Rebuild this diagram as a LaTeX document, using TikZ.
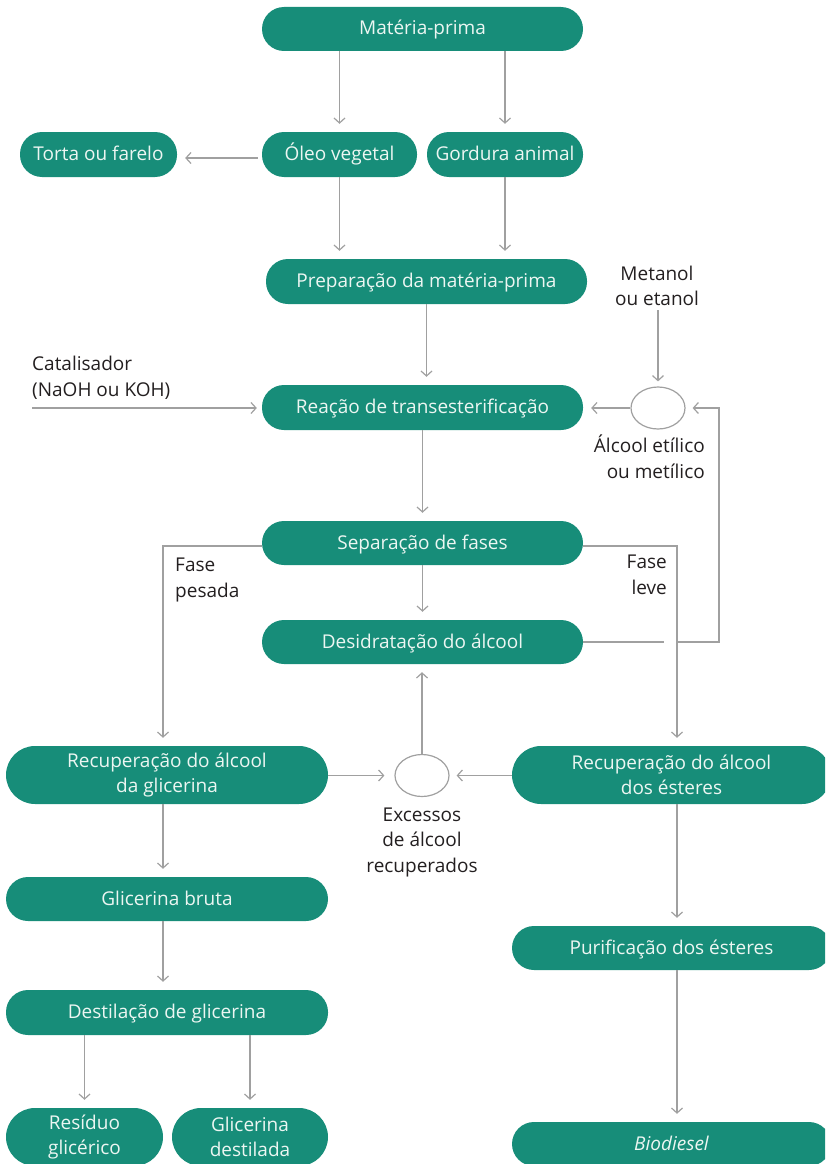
\documentclass[tikz,border=0pt]{standalone}
\usepackage{fontspec}
\setmainfont{Open Sans}
\usetikzlibrary{arrows.meta,calc,shapes.geometric}
\definecolor{teal1}{RGB}{23,141,121}
\definecolor{arrg}{RGB}{160,160,160}
\definecolor{boxtxt}{RGB}{236,246,242}
\definecolor{lblc}{RGB}{35,31,32}
\begin{document}
\begin{tikzpicture}[x=1pt,y=-1pt,
  box/.style={fill=teal1, text=boxtxt, rounded corners=22pt, minimum height=44pt,
    inner sep=0pt, align=center, font=\fontsize{19}{25}\selectfont, text height=16pt, text depth=4pt},
  tall/.style={box, rounded corners=29pt, minimum height=58pt, text height=, text depth=},
  ell/.style={ellipse, draw=arrg, line width=1.2pt, fill=white, minimum width=54pt, minimum height=42pt, inner sep=0pt},
  arr/.style={draw=arrg, line width=1.2pt, -{Straight Barb[length=5pt,width=11pt]}, shorten >=8pt},
  ln/.style={draw=arrg, line width=1.2pt},
  lbl/.style={text=lblc, inner sep=0pt, font=\fontsize{19}{25.5}\selectfont}
]
\useasboundingbox (0,0) rectangle (825,1164);
\clip (0,0) rectangle (825,1164);

% boxes
\node[box, minimum width=321pt] (mp) at (422.5,29) {Matéria-prima};
\node[box, minimum width=155pt, minimum height=45pt] (oleo) at (339.5,154.5) {Óleo vegetal};
\node[box, minimum width=156pt, minimum height=45pt] (gord) at (505,154.5) {Gordura animal};
\node[box, minimum width=157pt, minimum height=45pt] (torta) at (98.5,154.5) {Torta ou farelo};
\node[box, minimum width=321pt, minimum height=45pt] (prep) at (426.5,281.5) {Preparação da matéria-prima};
\node[box, minimum width=321pt, minimum height=45pt] (reac) at (422.5,407.5) {Reação de transesterificação};
\node[box, minimum width=321pt] (sep) at (422.5,543) {Separação de fases};
\node[box, minimum width=321pt] (desid) at (422.5,642) {Desidratação do álcool};
\node[tall, minimum width=322pt] (recg) at (167,775) {Recuperação do álcool\\da glicerina};
\node[tall, minimum width=319pt] (rece) at (671.5,775) {Recuperação do álcool\\dos ésteres};
\node[box, minimum width=322pt] (glib) at (167,899) {Glicerina bruta};
\node[box, minimum width=319pt] (puri) at (671.5,948) {Purificação dos ésteres};
\node[box, minimum width=322pt, minimum height=45pt] (dest) at (167,1012.5) {Destilação de glicerina};
\node[tall, minimum width=157pt] (resid) at (84.5,1137) {Resíduo\\glicérico};
\node[tall, minimum width=156pt] (glid) at (250,1137) {Glicerina\\destilada};
\node[box, minimum width=319pt] (bio) at (671.5,1144) {\itshape Biodiesel};

% ellipses
\node[ell] (e1) at (658,408) {};
\node[ell] (e2) at (422,775.5) {};

% labels
\node[lbl, align=center] (meta) at (657,286) {Metanol\\ou etanol};
\node[lbl, align=right, anchor=north east] (alc) at (705,435) {Álcool etílico\\ou metílico};
\node[lbl, align=left, anchor=west] (cat) at (32,378) {Catalisador\\(NaOH ou KOH)};
\node[lbl, align=left, anchor=west] (fp) at (175,580) {Fase\\pesada};
\node[lbl, align=right, anchor=east] (fl) at (667,575) {Fase\\leve};
\node[lbl, align=center] (exc) at (422,842) {Excessos\\de álcool\\recuperados};

% helper coordinates
\coordinate (catstart) at (32,408);
\coordinate (jmp) at (677,642);
\coordinate (rt) at (719,642);

% connectors
\draw[arr] (mp.south -| oleo.north) -- (oleo.north);
\draw[arr] (mp.south -| gord.north) -- (gord.north);
\draw[arr, shorten <=4pt] ([yshift=-3.5pt]oleo.west) -- ([yshift=-3.5pt]torta.east);
\draw[arr] (oleo.south) -- (oleo.south |- prep.north);
\draw[arr] (gord.south) -- (gord.south |- prep.north);
\draw[arr] (prep.south) -- (prep.south |- reac.north);
\draw[arr, shorten <=4pt, shorten >=5pt] (meta.south -| e1.north) -- (e1.north);
\draw[arr] (e1.west) -- (e1.west -| reac.east);
\draw[arr, shorten >=5pt] (catstart) -- (catstart -| reac.west);
\draw[arr] (reac.south -| sep.north) -- (sep.north);
\draw[arr] ([yshift=-3pt]sep.west) -| ([xshift=-4pt]recg.north);
\draw[arr] ([yshift=-3pt]sep.east) -| ([xshift=5.5pt]rece.north);
\draw[arr] (sep.south) -- (desid.north);
\draw[ln] (desid.east) -- ([xshift=-13pt]jmp);
\draw[arr, shorten >=7pt] (jmp) -- (rt) |- (e1.east);
\draw[arr] (e2.north) -- (e2.north |- desid.south);
\draw[arr, shorten >=10pt] (recg.east |- e2.west) -- (e2.west);
\draw[arr, shorten >=7pt] (rece.west |- e2.east) -- (e2.east);
\draw[arr] ([xshift=-4pt]recg.south) -- ([xshift=-4pt]glib.north);
\draw[arr] ([xshift=-4pt]glib.south) -- ([xshift=-4pt]dest.north);
\draw[arr] (dest.south -| resid.north) -- (resid.north);
\draw[arr] (dest.south -| glid.north) -- (glid.north);
\draw[arr] ([xshift=5.5pt]rece.south) -- ([xshift=5.5pt]puri.north);
\draw[arr] ([xshift=5.5pt]puri.south) -- ([xshift=5.5pt]bio.north);
\end{tikzpicture}
\end{document}
